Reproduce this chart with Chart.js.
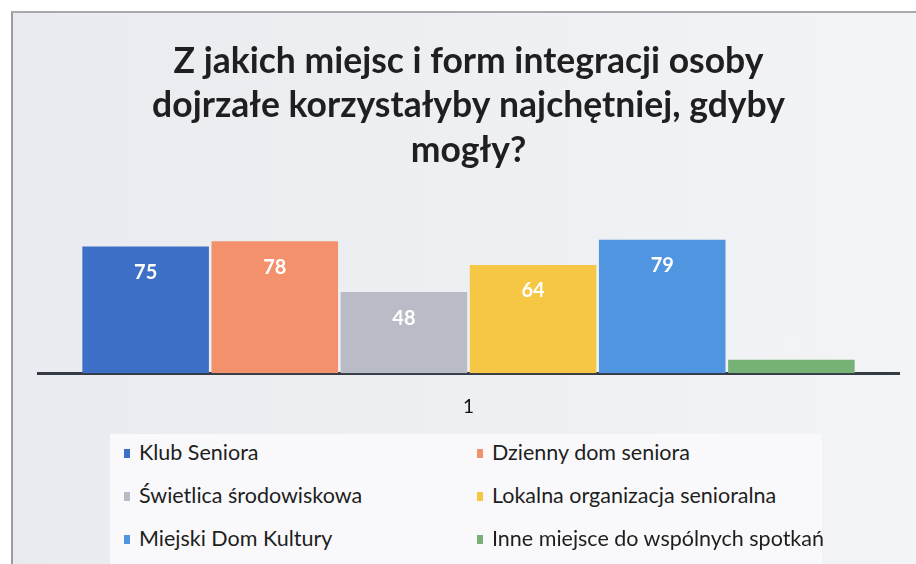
<!DOCTYPE html>
<html>
<head>
<meta charset="utf-8">
<script src="https://cdn.jsdelivr.net/npm/chart.js@4"></script>
<style>
  html, body { margin: 0; padding: 0; background: #fff; }
  #page { position: relative; width: 916px; height: 564px; overflow: hidden; font-family: Lato, "Noto Sans", sans-serif; }
  #panel {
    position: absolute; left: 11px; top: 11px; right: 0; bottom: 0;
    border-left: 2px solid #9a9ca2; border-top: 2px solid #a8aab0;
    background: linear-gradient(90deg, #e9ebf0 0%, #eef0f3 60%, #f3f4f6 100%);
  }
  #chart { position: absolute; left: 0; top: 0; }
  #legend {
    position: absolute; left: 110px; top: 434px; width: 712px; height: 130px;
    background: #f9f9fb;
  }
  .item { position: absolute; font-size: 21.5px; color: #1e1e1e; white-space: nowrap; }
  .item i { display: inline-block; width: 6px; height: 9px; margin-right: 9px; vertical-align: 2px; }
</style>
</head>
<body>
<div id="page">
  <div id="panel"></div>
  <canvas id="chart" width="916" height="564"></canvas>
  <div id="legend"></div>
</div>
<script>
// chart data
const titleLines = ["Z jakich miejsc i form integracji osoby", "dojrzałe korzystałyby najchętniej, gdyby", "mogły?"];
const categories = ["1"];
const seriesNames = ["Klub Seniora", "Dzienny dom seniora", "Świetlica środowiskowa", "Lokalna organizacja senioralna", "Miejski Dom Kultury", "Inne miejsce do wspólnych spotkań"];
const seriesValues = [75, 78, 48, 64, 79, 8];
const seriesColors = ["#3d6fc6", "#f2916c", "#b9bcc6", "#f5c744", "#4f95df", "#76b276"];

// value labels inside the top of each bar
const valueLabels = {
  id: "valueLabels",
  afterDatasetsDraw(chart) {
    const ctx = chart.ctx;
    ctx.save();
    ctx.font = "bold 20px Lato, sans-serif";
    ctx.textAlign = "center";
    ctx.textBaseline = "middle";
    chart.data.datasets.forEach((ds, i) => {
      const bar = chart.getDatasetMeta(i).data[0];
      const h = bar.base - bar.y;
      const y = h < 30 ? bar.y - 14 : bar.y + 26;
      ctx.fillStyle = h < 30 ? "#f4f4f6" : "#ffffff";
      ctx.fillText(String(ds.data[0]), bar.x, y);
    });
    ctx.restore();
  }
};

new Chart(document.getElementById("chart"), {
  type: "bar",
  data: {
    labels: categories,
    datasets: seriesNames.map((name, i) => ({
      label: name,
      data: [seriesValues[i]],
      backgroundColor: seriesColors[i],
      categoryPercentage: 0.9,
      barPercentage: 0.98
    }))
  },
  options: {
    responsive: false,
    animation: false,
    layout: { padding: { top: 40, left: 38, right: 17, bottom: 132 } },
    plugins: {
      legend: { display: false },
      tooltip: { enabled: false },
      title: {
        display: true,
        text: titleLines,
        color: "#1f1f1f",
        font: { family: "Lato, sans-serif", size: 35.5, weight: "bold", lineHeight: 1.24 },
        padding: { top: 0, bottom: 49 }
      }
    },
    scales: {
      y: { display: false, min: 0, max: 90 },
      x: {
        grid: { display: false },
        border: { display: true, color: "#353b45", width: 3 },
        ticks: { color: "#111", padding: 14, font: { family: "Lato, sans-serif", size: 19 } }
      }
    }
  },
  plugins: [valueLabels]
});

// legend in two columns
const legend = document.getElementById("legend");
const colX = [14, 367];
const rowY = [5, 48, 91];
seriesNames.forEach((name, i) => {
  const el = document.createElement("div");
  el.className = "item";
  el.style.left = colX[i % 2] + "px";
  el.style.top = rowY[Math.floor(i / 2)] + "px";
  el.innerHTML = '<i style="background:' + seriesColors[i] + '"></i>' + name;
  legend.appendChild(el);
});
</script>
</body>
</html>
